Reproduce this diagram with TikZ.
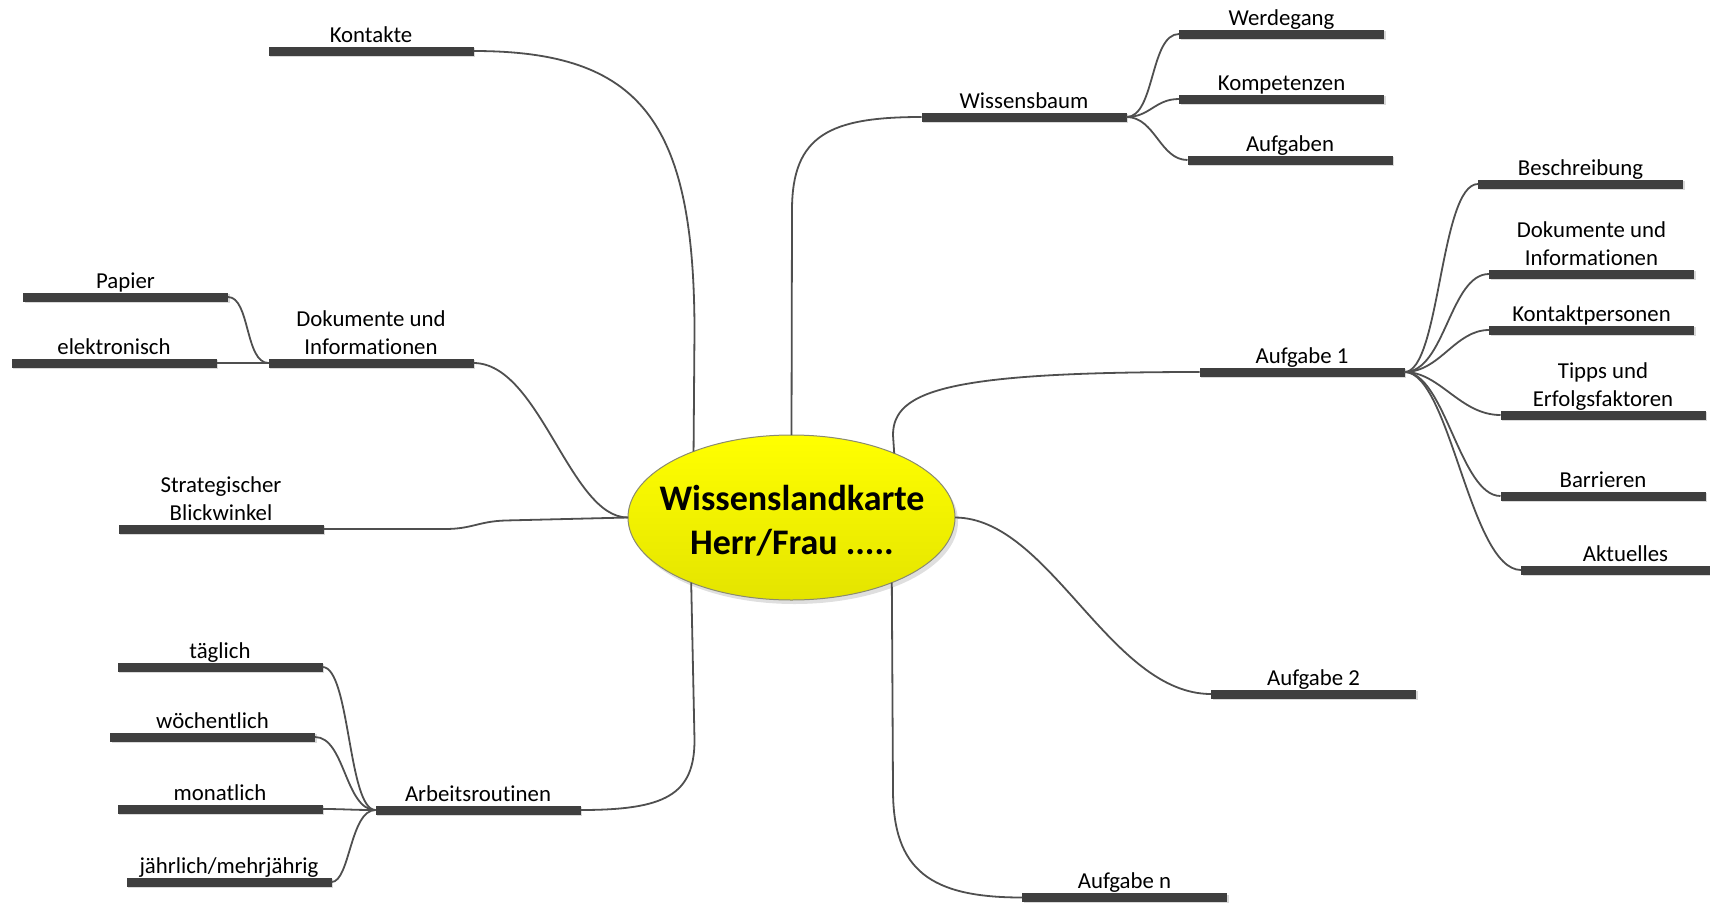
\documentclass[tikz,border=0pt]{standalone}
\usepackage{fontspec}
\setmainfont{Carlito}[Ligatures=CommonOff]
\usetikzlibrary{shapes.geometric,shadows}
\definecolor{bargray}{HTML}{3F3F3F}
\definecolor{linegray}{HTML}{4F4F4F}
\definecolor{ytop}{HTML}{FFFF00}
\definecolor{ybot}{HTML}{E4E400}
\definecolor{ellborder}{HTML}{8A8A70}
\begin{document}
\begin{tikzpicture}[x=1pt,y=-1pt,
  bar/.style={fill=bargray, minimum width=205pt, minimum height=9pt, inner sep=0pt, outer sep=0pt,
    drop shadow={shadow xshift=1.5pt,shadow yshift=-1.5pt,opacity=0.3}},
  lbl/.style={font=\fontsize{22.8}{28}\selectfont, align=center, inner sep=0pt, text=black, label distance=-4.4pt},
  conn/.style={draw=linegray, line width=1.8pt},
  hub/.style={ellipse, minimum width=327pt, minimum height=165pt, inner sep=0pt, outer sep=0pt,
    draw=ellborder, line width=1pt, top color=ytop, bottom color=ybot,
    drop shadow={shadow xshift=3pt, shadow yshift=-4pt, opacity=0.25}},
  title/.style={font=\bfseries\fontsize{36}{44}\selectfont, align=center, inner sep=0pt}
]
\useasboundingbox (0,0) rectangle (1710,902);

% central node
\node[hub] (c) at (791.5,517.5) {};
\node[title] (c-title) at (792,521) {Wissenslandkarte\\Herr/Frau .....};

% left side
\node[bar, label={[lbl, name=t-kontakte]above:Kontakte\strut}] (kontakte) at (371,51) {};
\node[bar, label={[lbl, name=t-doku]above:Dokumente und\\Informationen\strut}] (doku) at (371,363) {};
\node[bar, label={[lbl, name=t-papier]above:Papier\strut}] (papier) at (125.5,297) {};
\node[bar, label={[lbl, name=t-elek]above:elektronisch\strut}] (elek) at (114,363) {};
\node[bar, label={[lbl, name=t-strat]above:Strategischer\\Blickwinkel\strut}] (strat) at (221,529) {};
\node[bar, label={[lbl, name=t-arbeit]above:Arbeitsroutinen\strut}] (arbeit) at (478,810) {};
\node[bar, label={[lbl, name=t-taeg]above:täglich\strut}] (taeg) at (220,667) {};
\node[bar, label={[lbl, name=t-woech]above:wöchentlich\strut}] (woech) at (212.5,737) {};
\node[bar, label={[lbl, name=t-monat]above:monatlich\strut}] (monat) at (220,809) {};
\node[bar, label={[lbl, name=t-jahr]above:jährlich/mehrjährig\strut}] (jahr) at (229,882) {};

% right side
\node[bar, label={[lbl, name=t-wissen]above:Wissensbaum\strut}] (wissen) at (1024,117) {};
\node[bar, label={[lbl, name=t-werde]above:Werdegang\strut}] (werde) at (1281.5,34) {};
\node[bar, label={[lbl, name=t-kompe]above:Kompetenzen\strut}] (kompe) at (1281.5,99) {};
\node[bar, label={[lbl, name=t-aufgaben]above:Aufgaben\strut}] (aufgaben) at (1290,160) {};
\node[bar, label={[lbl, name=t-auf1]above:Aufgabe 1\strut}] (auf1) at (1302,372) {};
\node[bar, label={[lbl, name=t-besch]above:Beschreibung\strut}] (besch) at (1580.5,184) {};
\node[bar, label={[lbl, name=t-doku2]above:Dokumente und\\Informationen\strut}] (doku2) at (1591.5,274) {};
\node[bar, label={[lbl, name=t-kontp]above:Kontaktpersonen\strut}] (kontp) at (1591.5,330) {};
\node[bar, label={[lbl, name=t-tipps]above:Tipps und\\Erfolgsfaktoren\strut}] (tipps) at (1603,415) {};
\node[bar, label={[lbl, name=t-barr]above:Barrieren\strut}] (barr) at (1603,496) {};
\node[bar, minimum width=189pt, label={[lbl, name=t-aktu, xshift=10pt]above:Aktuelles\strut}] (aktu) at (1615.5,570) {};
\node[bar, label={[lbl, name=t-auf2]above:Aufgabe 2\strut}] (auf2) at (1313.5,694) {};
\node[bar, label={[lbl, name=t-aufn]above:Aufgabe n\strut}] (aufn) at (1124.5,897.5) {};

% main connectors
\draw[conn] (kontakte.east) .. controls (640,51) and (694,120) .. (694.5,330) -- (c.146);
\draw[conn] (c.north) -- (792,210) .. controls (792,135) and (830,117) .. (wissen.west);
\draw[conn] (c.32.4) -- (893,435) .. controls (893,390) and (950,372) .. (auf1.west);
\draw[conn] (c.east) .. controls (1050,518) and (1110,694) .. (auf2.west);
\draw[conn] (c.327.6) -- (893,790) .. controls (893,870) and (930,897.5) .. (aufn.west);
\draw[conn] (c.213.6) -- (694.5,740) .. controls (694.5,795) and (665,810) .. (arbeit.east);
\draw[conn] (c.west) .. controls (570,518) and (540,363) .. (doku.east);
\draw[conn] (c.west) -- (505,520.5) .. controls (478,521.5) and (472,529) .. (445,529) -- (strat.east);

% Dokumente (left) children
\draw[conn] (doku.west) .. controls (245,363) and (250,297) .. (papier.east);
\draw[conn] (doku.west) -- (elek.east);

% Arbeitsroutinen children
\draw[conn] (arbeit.west) .. controls (348,810) and (350,667) .. (taeg.east);
\draw[conn] (arbeit.west) .. controls (345,810) and (345,737) .. (woech.east);
\draw[conn] (arbeit.west) .. controls (350,810) and (345,809) .. (monat.east);
\draw[conn] (arbeit.west) .. controls (350,810) and (350,882) .. (jahr.east);

% Wissensbaum children
\draw[conn] (wissen.east) .. controls (1155,117) and (1150,34) .. (werde.west);
\draw[conn] (wissen.east) .. controls (1150,117) and (1155,99) .. (kompe.west);
\draw[conn] (wissen.east) .. controls (1155,117) and (1160,160) .. (aufgaben.west);

% Aufgabe 1 children
\draw[conn] (auf1.east) .. controls (1440,372) and (1440,184) .. (besch.west);
\draw[conn] (auf1.east) .. controls (1445,372) and (1450,274) .. (doku2.west);
\draw[conn] (auf1.east) .. controls (1440,372) and (1455,330) .. (kontp.west);
\draw[conn] (auf1.east) .. controls (1440,372) and (1460,415) .. (tipps.west);
\draw[conn] (auf1.east) .. controls (1445,372) and (1460,496) .. (barr.west);
\draw[conn] (auf1.east) .. controls (1450,372) and (1470,570) .. (aktu.west);
\end{tikzpicture}
\end{document}
